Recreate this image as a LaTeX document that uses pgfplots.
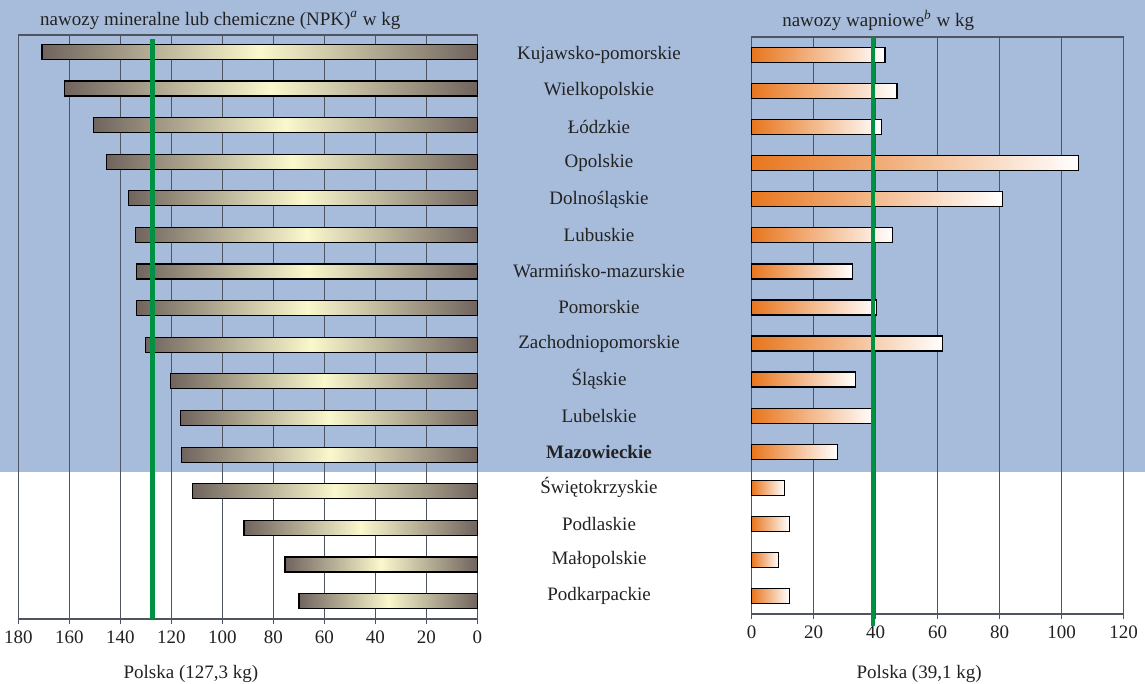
\documentclass[border=0pt]{standalone}
\usepackage{pgfplots}
\pgfplotsset{compat=1.18}
\usepackage{pgfplotstable}
\usepackage{fontspec}
\setmainfont{Liberation Serif}

\definecolor{bgblue}{RGB}{167,188,219}
\definecolor{npkdark}{RGB}{112,100,94}
\definecolor{npklight}{RGB}{250,248,204}
\definecolor{limeorange}{RGB}{232,118,30}
\definecolor{avggreen}{RGB}{0,146,66}
\definecolor{gridc}{RGB}{78,84,96}
\definecolor{txt}{RGB}{34,34,34}

% idx: row from the top; npk and lime in kg per ha
\pgfplotstableread{
idx npk lime
0  170.7 43.0
1  162.0 46.9
2  150.6 41.8
3  145.3 105.4
4  136.8 80.8
5  134.0 45.5
6  133.5 32.4
7  133.5 40.3
8  130.2 61.6
9  120.4 33.6
10 116.5 39.7
11 115.9 27.6
12 111.6 10.5
13 91.5  12.1
14 75.4  8.7
15 69.9  12.1
}\regions

\pgfplotsset{
  panel/.style={
    scale only axis,
    y dir=reverse,
    xtick pos=bottom,
    xmajorgrids,
    grid style={gridc, line width=0.6pt},
    axis line style={gridc, line width=0.7pt},
    tick style={gridc, line width=0.6pt},
    tick align=outside,
    major tick length=2.5pt,
    ticklabel style={txt},
    /pgf/number format/assume math mode=true,
    clip=false,
  },
  onebar/.style={xbar, bar width=7.5pt, bar shift=0pt, draw=black,
    line width=0.6pt, restrict y to domain=#1:#1},
}

\begin{document}
\begin{tikzpicture}[font=\fontsize{9.5}{11}\selectfont]
\path[use as bounding box] (0,0) rectangle (572.5pt,342pt);
\fill[white] (0,0) rectangle (572.5pt,106pt);
\fill[bgblue] (0,106pt) rectangle (572.5pt,342pt);

% left panel: NPK
\begin{axis}[panel,
  at={(9.15pt,32.5pt)}, anchor=south west,
  width=229.5pt, height=292pt,
  xmin=0, xmax=180, x dir=reverse,
  xtick={0,20,...,180},
  ymin=-0.46, ymax=15.49,
  ytick=\empty,
  title={nawozy mineralne lub chemiczne (NPK)\textsuperscript{\textit{a}} w kg},
  title style={at={(0.44,1)}, anchor=base, yshift=-1pt, txt},
  xlabel={Polska (127,3 kg)},
  xlabel style={at={(0.376,0)}, anchor=base, yshift=-29.5pt, txt},
]
% one plot per row so that each bar gets its own shading
\pgfplotsinvokeforeach{0,...,15}{
\addplot[onebar=#1, left color=npkdark, right color=npkdark, middle color=npklight]
  table[x=npk, y=idx] {\regions};
}
\addplot[avggreen, line width=2.2pt] coordinates {(127.3,-0.35) (127.3,15.49)};
\end{axis}

% right panel: lime
\begin{axis}[panel,
  at={(375.85pt,35pt)}, anchor=south west,
  width=186pt, height=288.5pt,
  xmin=0, xmax=120,
  xtick={0,20,...,120},
  ymin=-0.5, ymax=15.5,
  ytick={0,1,...,15},
  yticklabels={Kujawsko-pomorskie, Wielkopolskie, Łódzkie, Opolskie,
    Dolnośląskie, Lubuskie, Warmińsko-mazurskie, Pomorskie,
    Zachodniopomorskie, Śląskie, Lubelskie, \textbf{Mazowieckie},
    Świętokrzyskie, Podlaskie, Małopolskie, Podkarpackie},
  ytick style={draw=none},
  yticklabel style={anchor=center, xshift=-73.85pt, txt},
  title={nawozy wapniowe\textsuperscript{\textit{b}} w kg},
  title style={at={(0.34,1)}, anchor=base, yshift=-1pt, txt},
  xlabel={Polska (39,1 kg)},
  xlabel style={at={(0.45,0)}, anchor=base, yshift=-32pt, txt},
]
\pgfplotsinvokeforeach{0,...,15}{
\addplot[onebar=#1, left color=limeorange, right color=white]
  table[x=lime, y=idx] {\regions};
}
\addplot[avggreen, line width=2.2pt] coordinates {(39.1,-0.5) (39.1,15.83)};
\end{axis}
\end{tikzpicture}
\end{document}
